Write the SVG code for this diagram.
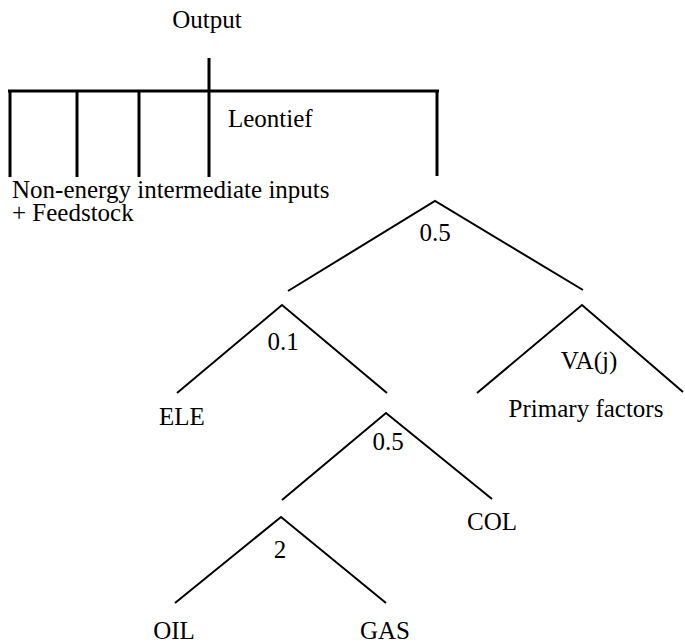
<svg xmlns="http://www.w3.org/2000/svg" width="685" height="642" viewBox="0 0 685 642">
<style>
text{font-family:'Liberation Serif','DejaVu Serif',serif;font-size:25px;fill:#000}
.lt{stroke:#000;stroke-width:3;fill:none}
.tr{stroke:#000;stroke-width:2;fill:none}
</style>
<rect width="685" height="642" fill="#fff"/>
<g id="connectors">
<line class="lt" x1="209" y1="58" x2="209" y2="177"/>
<line class="lt" x1="8" y1="91" x2="439" y2="91"/>
<line class="lt" x1="10" y1="91" x2="10" y2="177"/>
<line class="lt" x1="77" y1="91" x2="77" y2="177"/>
<line class="lt" x1="139" y1="91" x2="139" y2="177"/>
<line class="lt" x1="437" y1="91" x2="437" y2="176"/>
<polyline class="tr" points="288,291 435,201 583,290"/>
<polyline class="tr" points="177,393 282,305 387,393"/>
<polyline class="tr" points="477,393 582,305 683,392"/>
<polyline class="tr" points="282,500 386,413 492,499"/>
<polyline class="tr" points="175,603 281,517 386,603"/>
</g>
<g id="output"><text x="207" y="28" text-anchor="middle">Output</text></g>
<g id="leontief"><text x="228" y="127">Leontief</text></g>
<g id="nonenergy"><text x="12" y="198">Non-energy intermediate inputs</text><text x="12" y="221">+ Feedstock</text></g>
<g id="n05a"><text x="435" y="241" text-anchor="middle">0.5</text></g>
<g id="n01"><text x="283" y="350" text-anchor="middle">0.1</text></g>
<g id="va"><text x="589" y="369" text-anchor="middle">VA(j)</text><text x="586" y="417" text-anchor="middle">Primary factors</text></g>
<g id="ele"><text x="182" y="425" text-anchor="middle">ELE</text></g>
<g id="n05b"><text x="388" y="450" text-anchor="middle">0.5</text></g>
<g id="col"><text x="492" y="530" text-anchor="middle">COL</text></g>
<g id="n2"><text x="280" y="558" text-anchor="middle">2</text></g>
<g id="oil"><text x="174" y="639" text-anchor="middle">OIL</text></g>
<g id="gas"><text x="385" y="639" text-anchor="middle">GAS</text></g>
</svg>
